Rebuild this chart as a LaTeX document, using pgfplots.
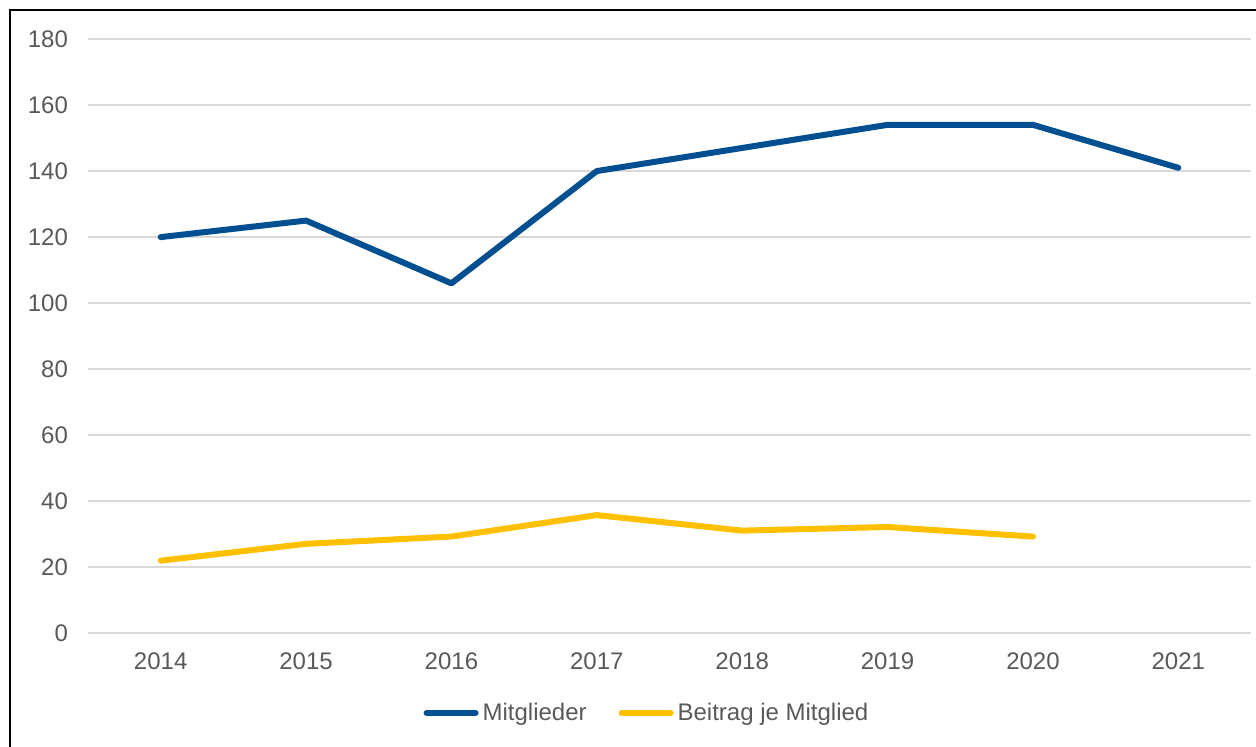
\documentclass[border=0pt]{standalone}
\usepackage{fontspec}
\setmainfont{Liberation Sans}
\usepackage{pgfplots}
\pgfplotsset{compat=1.18}
\definecolor{blueline}{HTML}{004F91}
\definecolor{yellowline}{HTML}{FFC000}
\definecolor{gridgray}{HTML}{D9D9D9}
\definecolor{textgray}{HTML}{595959}
\begin{document}
\begin{tikzpicture}
\useasboundingbox (0pt,0pt) rectangle (628pt,373pt);
\clip (0pt,0pt) rectangle (628pt,373pt);
\draw[black, line width=1pt] (5pt,-10pt) rectangle (640pt,368pt);
\begin{axis}[
  at={(44pt,56.35pt)}, anchor=south west,
  scale only axis,
  width=581.5pt, height=297.15pt,
  xmin=-0.5, xmax=7.5,
  ymin=0, ymax=180,
  ytick={0,20,...,180},
  xtick={0,...,7},
  xticklabels={2014,2015,2016,2017,2018,2019,2020,2021},
  axis line style={draw=none},
  ymajorgrids,
  grid style={gridgray, line width=1pt},
  major tick length=0pt,
  /pgf/number format/assume math mode=true,
  tick label style={font=\fontsize{12}{14}\selectfont, text=textgray},
  yticklabel style={xshift=-6.5pt},
  xticklabel style={yshift=-6pt},
  legend style={at={(axis description cs:0.4815,-0.134)}, anchor=center,
    draw=none, fill=none, legend columns=2,
    font=\fontsize{12}{14}\selectfont, text=textgray,
    /tikz/every even column/.append style={column sep=14pt},
    inner sep=0pt},
  legend image code/.code={\draw[#1, line width=3pt, line cap=round] (1.5pt,0pt) -- (26pt,0pt);},
  clip=false,
]
\addplot[blueline, line width=3pt, line cap=round, line join=round] coordinates {
(0,120) (1,125) (2,106) (3,140) (4,147) (5,154) (6,154) (7,141)};
\addlegendentry{Mitglieder}
\addplot[yellowline, line width=3pt, line cap=round, line join=round] coordinates {
(0,22) (1,27.1) (2,29.3) (3,35.8) (4,31.1) (5,32.2) (6,29.3)};
\addlegendentry{Beitrag je Mitglied}
\end{axis}
\end{tikzpicture}
\end{document}
